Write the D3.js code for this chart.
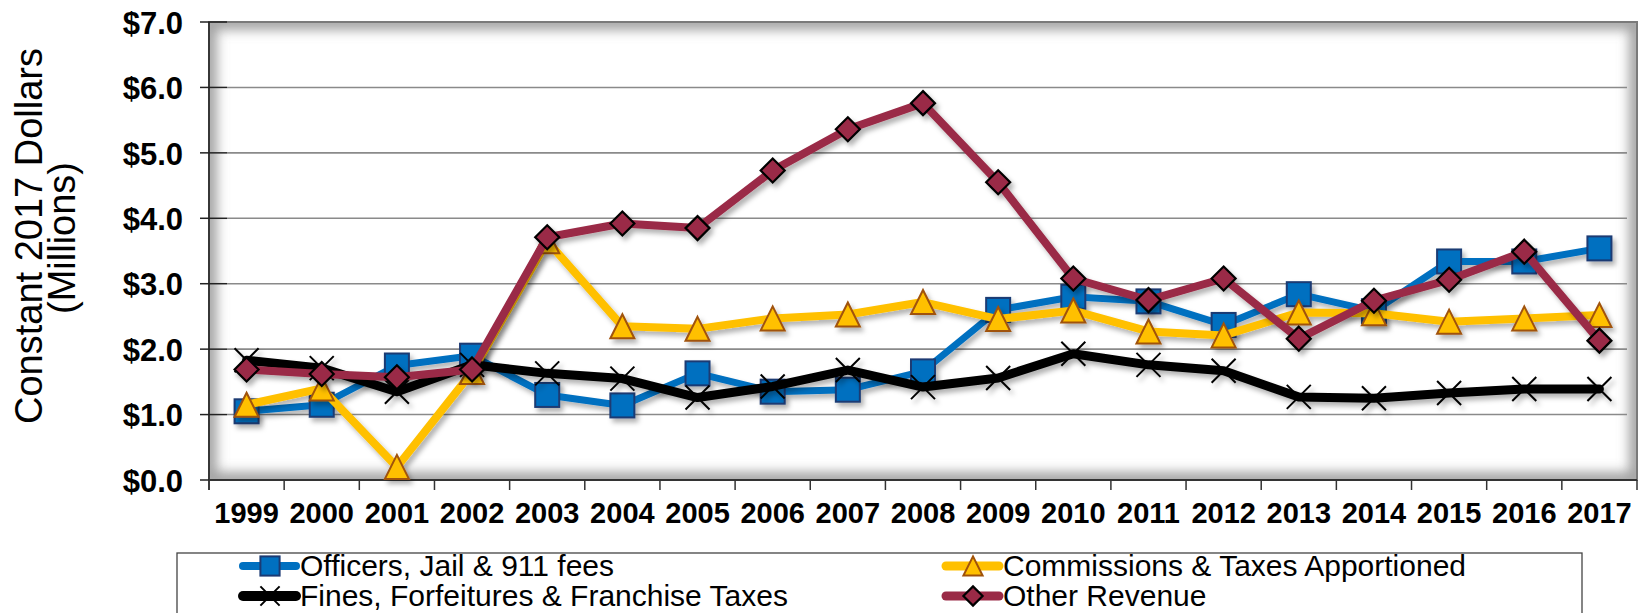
<!DOCTYPE html>
<html><head><meta charset="utf-8">
<script src="https://cdn.jsdelivr.net/npm/d3@7/dist/d3.min.js"></script>
<style>html,body{margin:0;padding:0;background:#fff;}svg{display:block;font-family:Arial,"Liberation Sans",sans-serif;}</style>
</head><body>
<svg id="c" width="1641" height="613"></svg>
<script>
const years = ["1999","2000","2001","2002","2003","2004","2005","2006","2007","2008","2009","2010","2011","2012","2013","2014","2015","2016","2017"];
const officers    = [1.05,1.15,1.75,1.90,1.30,1.14,1.63,1.35,1.38,1.66,2.60,2.80,2.73,2.37,2.84,2.58,3.34,3.34,3.54];
const commissions = [1.15,1.40,0.20,1.65,3.65,2.35,2.31,2.47,2.53,2.72,2.46,2.59,2.27,2.21,2.56,2.55,2.42,2.47,2.52];
const fines       = [1.83,1.71,1.35,1.76,1.63,1.55,1.26,1.43,1.68,1.42,1.56,1.93,1.76,1.67,1.27,1.25,1.33,1.39,1.39];
const other       = [1.69,1.62,1.57,1.69,3.71,3.92,3.85,4.73,5.36,5.76,4.55,3.08,2.75,3.08,2.16,2.74,3.06,3.49,2.13];
const yTicks = [0,1,2,3,4,5,6,7];
const seriesNames = ["Officers, Jail & 911 fees","Commissions & Taxes Apportioned","Fines, Forfeitures & Franchise Taxes","Other Revenue"];

const series = [
  {name: seriesNames[0], values: officers, line:"#0070C0", w:7, marker:"square", fill:"#0070C0", stroke:"#1B3A73"},
  {name: seriesNames[1], values: commissions, line:"#FFC000", w:8, marker:"triangle", fill:"#FFC000", stroke:"#A0520A"},
  {name: seriesNames[2], values: fines, line:"#000000", w:9, marker:"x", fill:"none", stroke:"#000"},
  {name: seriesNames[3], values: other, line:"#9A2A46", w:8, marker:"diamond", fill:"#9A2A46", stroke:"#000"}
];

const svg = d3.select("#c");
const L = 209, R = 1637, T = 22, B = 480;
const x = d3.scaleBand().domain(years).range([L, R]).paddingInner(0).paddingOuter(0);
const y = d3.scaleLinear().domain([0,7]).range([B, T]);

const defs = svg.append("defs");
defs.append("clipPath").attr("id","plotclip").append("rect").attr("x",L).attr("y",T).attr("width",R-L).attr("height",B-T);
const glow = defs.append("filter").attr("id","glow").attr("x","-10%").attr("y","-10%").attr("width","120%").attr("height","120%");
glow.append("feGaussianBlur").attr("stdDeviation",6);
const sh = defs.append("filter").attr("id","shadow").attr("x","-5%").attr("y","-20%").attr("width","110%").attr("height","140%");
sh.append("feDropShadow").attr("dx",3).attr("dy",4).attr("stdDeviation",2.5).attr("flood-color","#000").attr("flood-opacity",0.3);

// plot background with inner shadow
svg.append("rect").attr("x",L).attr("y",T).attr("width",R-L).attr("height",B-T).attr("fill","#fff");
svg.append("g").attr("clip-path","url(#plotclip)")
  .append("rect").attr("x",L).attr("y",T).attr("width",R-L).attr("height",B-T)
  .attr("fill","none").attr("stroke","#8c8c8c").attr("stroke-width",16).attr("stroke-opacity",0.8).attr("filter","url(#glow)");

// gridlines
svg.append("g").selectAll("line").data(yTicks.filter(d=>d>0 && d<7)).join("line")
  .attr("x1",227).attr("x2",R-10).attr("y1",d=>y(d)).attr("y2",d=>y(d))
  .attr("stroke","#8a8a8a").attr("stroke-width",1.6);

// border
svg.append("rect").attr("x",L).attr("y",T).attr("width",R-L).attr("height",B-T)
  .attr("fill","none").attr("stroke","#7a7a7a").attr("stroke-width",2);

// y axis
const yAxis = d3.axisLeft(y).tickValues(yTicks).tickSize(0).tickFormat(d=>"$"+d3.format(".1f")(d));
const gy = svg.append("g").attr("transform",`translate(${L},0)`).call(yAxis);
gy.select(".domain").remove();
gy.selectAll("text").attr("x",-26).attr("dy","0.36em").attr("font-size",31).attr("font-weight","bold")
  .attr("fill","#000").attr("font-family","Arial, 'Liberation Sans', sans-serif");
svg.append("g").selectAll("line").data(yTicks).join("line")
  .attr("x1",200).attr("x2",227).attr("y1",d=>y(d)).attr("y2",d=>y(d))
  .attr("stroke","#222").attr("stroke-width",1.5);
svg.append("line").attr("x1",L).attr("x2",L).attr("y1",T).attr("y2",B+10).attr("stroke","#222").attr("stroke-width",1.5);

// x axis
svg.append("line").attr("x1",L).attr("x2",R).attr("y1",B).attr("y2",B).attr("stroke","#333").attr("stroke-width",2);
const bounds = d3.range(years.length+1).map(i => i < years.length ? x(years[i]) : R);
svg.append("g").selectAll("line").data(bounds).join("line")
  .attr("x1",d=>d).attr("x2",d=>d).attr("y1",B).attr("y2",B+10).attr("stroke","#333").attr("stroke-width",1.5);
const xAxis = d3.axisBottom(x).tickSize(0);
const gx = svg.append("g").attr("transform",`translate(0,${B})`).call(xAxis);
gx.select(".domain").remove();
gx.selectAll("text").attr("y",43).attr("dy",0).attr("font-size",29).attr("font-weight","bold")
  .attr("fill","#000").attr("font-family","Arial, 'Liberation Sans', sans-serif");

// y title
svg.append("text").attr("transform","translate(42,236) rotate(-90)").attr("text-anchor","middle")
  .attr("font-size",38).attr("fill","#000").text("Constant 2017 Dollars");
svg.append("text").attr("transform","translate(75,238) rotate(-90)").attr("text-anchor","middle")
  .attr("font-size",38).attr("fill","#000").text("(Millions)");

// markers
function drawMarker(g, type, cx, cy, fill, stroke, scale) {
  const h = 12*scale;
  if (type==="square") {
    g.append("rect").attr("x",cx-h).attr("y",cy-h).attr("width",2*h).attr("height",2*h)
      .attr("fill",fill).attr("stroke",stroke).attr("stroke-width",2);
  } else if (type==="triangle") {
    g.append("path").attr("d",`M${cx},${cy-h} L${cx+h},${cy+h} L${cx-h},${cy+h} Z`)
      .attr("fill",fill).attr("stroke",stroke).attr("stroke-width",2);
  } else if (type==="diamond") {
    g.append("path").attr("d",`M${cx},${cy-h} L${cx+h},${cy} L${cx},${cy+h} L${cx-h},${cy} Z`)
      .attr("fill",fill).attr("stroke",stroke).attr("stroke-width",2.2);
  } else if (type==="x") {
    g.append("path").attr("d",`M${cx-h},${cy-h} L${cx+h},${cy+h} M${cx+h},${cy-h} L${cx-h},${cy+h}`)
      .attr("fill","none").attr("stroke",stroke).attr("stroke-width",2);
  }
}

const line = d3.line().x((d,i)=>x(years[i]) + x.bandwidth()/2).y(d=>y(d));
series.forEach(s => {
  const g = svg.append("g").attr("filter","url(#shadow)");
  g.append("path").datum(s.values).attr("d",line).attr("fill","none")
    .attr("stroke",s.line).attr("stroke-width",s.w).attr("stroke-linejoin","round").attr("stroke-linecap","round");
  s.values.forEach((v,i) => drawMarker(g, s.marker, x(years[i]) + x.bandwidth()/2, y(v), s.fill, s.stroke, 1));
});

// legend
svg.append("rect").attr("x",177).attr("y",553).attr("width",1405).attr("height",90)
  .attr("fill","#fff").attr("stroke","#444").attr("stroke-width",1.3);
const legPos = [[239,566],[942,566],[239,596],[942,596]];
series.forEach((s,k) => {
  const [lx,ly] = legPos[k];
  const g = svg.append("g");
  g.append("line").attr("x1",lx+4).attr("x2",lx+57).attr("y1",ly).attr("y2",ly)
    .attr("stroke",s.line).attr("stroke-width",s.w+1).attr("stroke-linecap","round");
  drawMarker(g, s.marker, lx+31, ly, s.fill, s.stroke, 0.8);
  g.append("text").attr("x",lx+61).attr("y",ly+10).attr("font-size",30).attr("fill","#000").text(s.name);
});
</script>
</body></html>
